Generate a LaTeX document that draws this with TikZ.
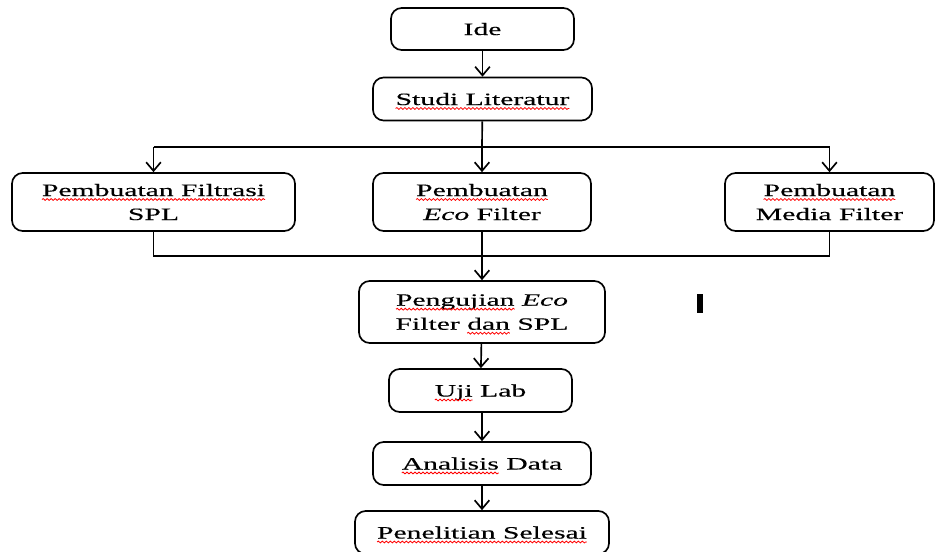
\documentclass[tikz,border=0pt]{standalone}
\usepackage{fontspec}
\setmainfont{Liberation Serif}[FakeStretch=1.71, FakeBold=0.3]
\usetikzlibrary{arrows.meta,decorations.pathmorphing}

% red wavy underline under flagged words
\newcommand\spellmark[1]{\tikz[baseline=(w.base), x=1pt, y=1pt]{%
  \node[inner sep=0pt, outer sep=0pt, minimum width=0pt, minimum height=0pt,
        draw=none, fill=none, anchor=base] (w) {#1};
  \draw[overlay, red, line width=0.6pt, sharp corners, decorate,
        decoration={snake, amplitude=0.7pt, segment length=3pt}]
    ([yshift=-2.6pt]w.base west) -- ([yshift=-2.6pt]w.base east);}}

\tikzset{
  stepbox/.style={draw, line width=1.25pt, rounded corners=8pt, align=center,
    inner sep=0pt, text depth=0pt,
    font=\fontsize{13}{18}\selectfont},
  link/.style={line width=1.25pt},
  arr/.style={line width=1.25pt, -{Straight Barb[length=6.5pt, width=11pt, line width=1.25pt]}},
}

\begin{document}
\begin{tikzpicture}[x=0.75pt, y=-0.75pt]
\useasboundingbox (0,0) rectangle (936,551);
\clip (0,0) rectangle (936,551);
\fill[white] (0,0) rectangle (936,551);

% process steps
\node[stepbox, minimum width=137.25pt, minimum height=31.5pt] (ide) at (482.5,29) {Ide};
\node[stepbox, minimum width=164.25pt, minimum height=32.25pt] (studi) at (482.5,99) {\spellmark{Studi Literatur}};
\node[stepbox, minimum width=212.25pt, minimum height=43.5pt] (spl) at (153.5,202) {\spellmark{Pembuatan Filtrasi}\\SPL};
\node[stepbox, minimum width=163.5pt, minimum height=43.5pt] (eco) at (482,202) {\spellmark{Pembuatan}\\\textit{Eco} Filter};
\node[stepbox, minimum width=156.75pt, minimum height=43.5pt] (media) at (829.5,202) {\spellmark{Pembuatan}\\Media Filter};
\node[stepbox, minimum width=184.5pt, minimum height=46.5pt] (uji1) at (482,312) {\spellmark{Pengujian} \textit{Eco}\\Filter \spellmark{dan} SPL};
\node[stepbox, minimum width=137.25pt, minimum height=32.25pt] (lab) at (480.5,390.5) {\spellmark{Uji} Lab};
\node[stepbox, minimum width=163.5pt, minimum height=32.25pt] (ana) at (482,463.5) {\spellmark{Analisis} Data};
\node[stepbox, minimum width=190.5pt, minimum height=32.25pt] (end) at (482,532.5) {\spellmark{Penelitian Selesai}};

% text cursor
\node[fill=black, inner sep=0pt, minimum width=4.5pt, minimum height=14pt] (cursor) at (700,303.5) {};

% junction points
\coordinate (split) at (482,147);
\coordinate (merge) at (482,256);

% connectors
\draw[arr] (ide) -- (studi);
\draw[link] (studi) -- (split);
\draw[link] (spl.north |- split) -- (media.north |- split);
\draw[arr] (spl.north |- split) -- (spl.north);
\draw[arr] (split) -- (eco.north);
\draw[arr] (media.north |- split) -- (media.north);

\draw[link] (spl.south) -- (spl.south |- merge) -- (media.south |- merge) -- (media.south);
\draw[link] (eco.south) -- (merge);
\draw[arr] (merge) -- (uji1.north);

\draw[arr] (uji1) -- (lab);
\draw[arr] (lab.south -| ana) -- (ana);
\draw[arr] (ana) -- (end);
\end{tikzpicture}
\end{document}
